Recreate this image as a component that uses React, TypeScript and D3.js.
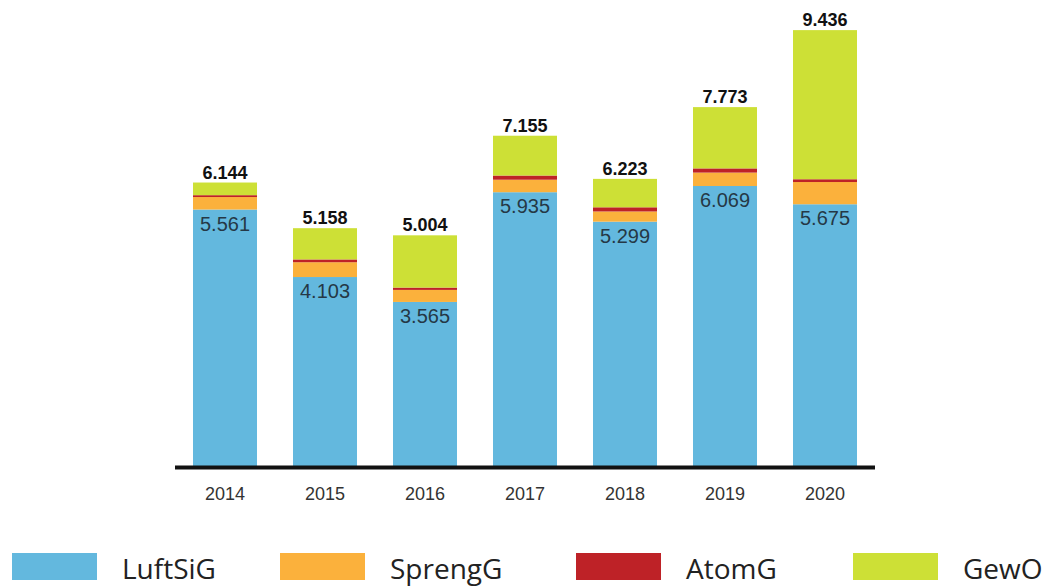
import React from "react";
import * as d3 from "d3";

const years = ["2014", "2015", "2016", "2017", "2018", "2019", "2020"];
const luftSiG = [5.561, 4.103, 3.565, 5.935, 5.299, 6.069, 5.675];
const sprengG = [0.27, 0.32, 0.26, 0.27, 0.22, 0.29, 0.48];
const atomG = [0.04, 0.06, 0.05, 0.09, 0.09, 0.09, 0.06];
const gewO = [0.273, 0.675, 1.129, 0.86, 0.614, 1.324, 3.221];
const totals = [6.144, 5.158, 5.004, 7.155, 6.223, 7.773, 9.436];
const luftLabels = ["5.561", "4.103", "3.565", "5.935", "5.299", "6.069", "5.675"];
const totalLabels = ["6.144", "5.158", "5.004", "7.155", "6.223", "7.773", "9.436"];

const seriesNames = ["LuftSiG", "SprengG", "AtomG", "GewO"];
const seriesColors = ["#63b8de", "#fbb13c", "#be2227", "#cde036"];
const legendX = [12, 280, 576, 853];

const W = 1053;
const H = 586;

export default function App() {
  const x = d3
    .scaleBand<string>()
    .domain(years)
    .range([175, 875])
    .paddingInner(0.36)
    .paddingOuter(0.18);
  const y = d3.scaleLinear().domain([0, 10]).range([467, 4]);

  const rows = years.map((yr, i) => ({
    year: yr,
    LuftSiG: luftSiG[i],
    SprengG: sprengG[i],
    AtomG: atomG[i],
    GewO: gewO[i],
  }));
  const stack = d3.stack<any>().keys(seriesNames)(rows);

  return (
    <svg
      width={W}
      height={H}
      style={{ position: "absolute", left: 0, top: 0, background: "#fff" }}
    >
      {stack.map((layer, si) => (
        <g key={layer.key} fill={seriesColors[si]}>
          {layer.map((d, i) => (
            <rect
              key={i}
              x={x(years[i])}
              y={y(d[1])}
              width={x.bandwidth()}
              height={y(d[0]) - y(d[1])}
            />
          ))}
        </g>
      ))}
      <line x1={175} x2={875} y1={y(0) + 0.5} y2={y(0) + 0.5} stroke="#111" strokeWidth={4} />
      {years.map((yr, i) => (
        <text
          key={"yl" + i}
          x={(x(yr) as number) + x.bandwidth() / 2}
          y={500}
          textAnchor="middle"
          fontFamily="Liberation Sans, Arial, sans-serif"
          fontSize={18}
          fill="#333"
        >
          {yr}
        </text>
      ))}
      {years.map((yr, i) => (
        <text
          key={"lv" + i}
          x={(x(yr) as number) + x.bandwidth() / 2}
          y={y(luftSiG[i]) + 21}
          textAnchor="middle"
          fontFamily="Liberation Sans, Arial, sans-serif"
          fontSize={20}
          fill="#253846"
        >
          {luftLabels[i]}
        </text>
      ))}
      {years.map((yr, i) => (
        <text
          key={"tv" + i}
          x={(x(yr) as number) + x.bandwidth() / 2}
          y={y(totals[i]) - 4}
          textAnchor="middle"
          fontFamily="Liberation Sans, Arial, sans-serif"
          fontSize={18}
          fontWeight="bold"
          fill="#111"
        >
          {totalLabels[i]}
        </text>
      ))}
      {seriesNames.map((name, i) => (
        <g key={"lg" + i}>
          <rect x={legendX[i]} y={553} width={85} height={27} fill={seriesColors[i]} />
          <text
            x={legendX[i] + 110}
            y={579}
            fontFamily="Open Sans, sans-serif"
            fontSize={28}
            fill="#222"
          >
            {name}
          </text>
        </g>
      ))}
    </svg>
  );
}
